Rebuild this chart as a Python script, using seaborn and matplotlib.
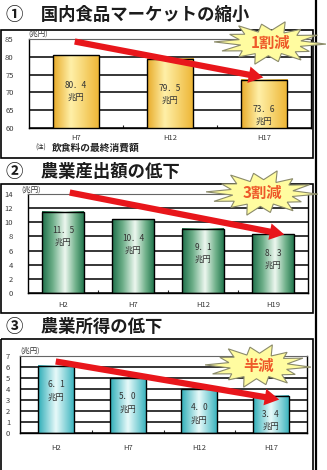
import numpy as np
import matplotlib
matplotlib.use("Agg")
import matplotlib.pyplot as plt
import seaborn as sns
from matplotlib.patches import Rectangle, Polygon, FancyArrowPatch

sns.set_theme(style="white")
plt.rcParams['font.family'] = ['Noto Sans CJK JP', 'DejaVu Sans']

# ---- data -------------------------------------------------------------
food_years = ["H7", "H12", "H17"]
food_values = [80.4, 79.5, 73.6]          # 国内食品マーケット (兆円)
food_ticks = [60, 65, 70, 75, 80, 85]

output_years = ["H2", "H7", "H12", "H19"]
output_values = [11.5, 10.4, 9.1, 8.3]    # 農業産出額 (兆円)
output_ticks = [0, 2, 4, 6, 8, 10, 12, 14]

income_years = ["H2", "H7", "H12", "H17"]
income_values = [6.1, 5.0, 4.0, 3.4]      # 農業所得 (兆円)
income_ticks = [0, 1, 2, 3, 4, 5, 6, 7]

titles = ["①　国内食品マーケットの縮小", "②　農業産出額の低下", "③　農業所得の低下"]
badges = ["1割減", "3割減", "半減"]
unit_label = "(兆円)"
note_label = "飲食料の最終消費額"

# ---- figure ------------------------------------------------------------
W, H, DPI = 327, 470, 100
fig = plt.figure(figsize=(W / DPI, H / DPI), dpi=DPI)
fig.patch.set_facecolor("white")


def px_axes(x0, y0, x1, y1):
    """Axes placed by pixel box (origin top-left)."""
    return fig.add_axes([x0 / W, 1 - y1 / H, (x1 - x0) / W, (y1 - y0) / H])


def gradient(stops, n=96):
    t = np.linspace(0, 1, n)
    ts = [s[0] for s in stops]
    cols = np.array([s[1] for s in stops])
    rgb = np.stack([np.interp(t, ts, cols[:, k]) for k in range(3)], axis=-1)
    return rgb[np.newaxis, :, :]


GOLD = gradient([(0, (0.91, 0.67, 0.16)), (0.38, (1.0, 0.94, 0.66)),
                 (1, (0.93, 0.71, 0.20))])
GREEN = gradient([(0, (0.12, 0.44, 0.29)), (0.25, (0.42, 0.68, 0.53)),
                  (0.55, (0.93, 0.97, 0.94)), (0.8, (0.45, 0.70, 0.55)),
                  (1, (0.14, 0.47, 0.31))])
CYAN = gradient([(0, (0.18, 0.68, 0.72)), (0.5, (0.91, 0.98, 0.98)),
                 (1, (0.24, 0.71, 0.75))])


def bar_panel(box, cats, vals, ticks, width, grad, ypad, xpad, label_drop):
    ax = px_axes(*box)
    sns.barplot(x=cats, y=vals, ax=ax, width=width, color="white",
                saturation=1, edgecolor="black", linewidth=1.0)
    lo, hi = ticks[0], ticks[-1]
    for p in ax.patches:
        x0, w = p.get_x(), p.get_width()
        top = p.get_y() + p.get_height()
        ax.imshow(grad, extent=[x0, x0 + w, lo, top], aspect="auto",
                  interpolation="bilinear", zorder=2)
        p.set_facecolor("none")
        p.set_zorder(3)
    n = len(cats)
    ax.set_xlim(-0.5, n - 0.5)
    ax.set_ylim(lo, hi)
    ax.set_yticks(ticks)
    ax.set_yticklabels([str(t) for t in ticks])
    ax.yaxis.grid(True, color="black", linewidth=1.1)
    ax.set_axisbelow(True)
    ax.set_xlabel("")
    ax.set_ylabel("")
    ax.tick_params(axis="y", length=0, pad=ypad, labelsize=5.5, labelcolor="#3a3a3a")
    ax.tick_params(axis="x", which="major", length=0, pad=xpad, labelsize=5.5,
                   labelcolor="#3a3a3a")
    ax.set_xticks(np.arange(n - 1) + 0.5, minor=True)
    ax.tick_params(axis="x", which="minor", length=2.5, width=0.8,
                   direction="in", color="#222", bottom=True)
    for s in ax.spines.values():
        s.set_color("black")
        s.set_linewidth(1.0)
    ax.spines["top"].set_color("#666")
    ax.spines["top"].set_linewidth(0.8)
    for i, v in enumerate(vals):
        txt = f"{v:.1f}".replace(".", "．") + "\n兆円"
        ax.annotate(txt, xy=(i, v), xytext=(0, -label_drop * 0.72),
                    textcoords="offset points", ha="center", va="center",
                    fontsize=6, color="#333333", linespacing=1.45, zorder=4)
    return ax


bar_panel((29, 39, 311, 128), food_years, food_values, food_ticks, 0.49,
          GOLD, 11, 4.5, 36)
bar_panel((28, 194, 308, 293), output_years, output_values, output_ticks, 0.6,
          GREEN, 11, 6, 25)
bar_panel((20, 356, 307, 433), income_years, income_values, income_ticks, 0.5,
          CYAN, 7, 8, 25)

# ---- overlay: frames, titles, arrows, badges --------------------------
ov = fig.add_axes([0, 0, 1, 1], zorder=10)
ov.set_xlim(0, W)
ov.set_ylim(H, 0)
ov.axis("off")
ov.patch.set_alpha(0)

# outer frame and panel boxes
ov.plot([315.5, 315.5], [0, H], color="black", lw=1.6, solid_capstyle="butt")
for (y0, y1) in [(30, 158), (184, 313), (339, H + 5)]:
    ov.add_patch(Rectangle((0.8, y0), 312.4, y1 - y0, fill=False,
                           edgecolor="black", lw=1.2))

# titles
for t, y in zip(titles, [14.5, 172, 327]):
    ov.text(6, y, t, fontsize=12.5, fontweight="bold", color="#1c1c1c",
            ha="left", va="center")

# units and footnote
for x, y in [(28, 34), (21, 189.5), (20, 350.5)]:
    ov.text(x, y, unit_label, fontsize=5.3, color="#333", ha="left", va="center")
ov.text(35, 148, "(注)", fontsize=4.5, color="#333", ha="left", va="center")
ov.text(52, 148, note_label, fontsize=7, fontweight="bold", color="#222",
        ha="left", va="center")

# downward trend arrows
for (x0, y0), (x1, y1) in [((72, 41), (266, 78)),
                           ((67, 192), (287, 235)),
                           ((53, 361), (282, 400))]:
    ov.add_patch(FancyArrowPatch(
        (x0, y0), (x1, y1),
        arrowstyle="simple,tail_width=0.45,head_width=1.2,head_length=1.05",
        mutation_scale=10, color="#E8161B", lw=0, zorder=5))

# explosion badges
spike_r = [1.0, 0.80, 0.95, 0.86, 1.0, 0.84, 0.93, 1.0, 0.82, 0.96, 0.87, 1.0, 0.83, 0.92]
notch_r = [0.56, 0.60, 0.52, 0.58, 0.55, 0.61, 0.53, 0.57, 0.60, 0.54, 0.58, 0.52, 0.59, 0.56]


def burst(cx, cy, rx, ry):
    pts = []
    k = len(spike_r)
    for i in range(k):
        a = 2 * np.pi * i / k + 0.05
        pts.append((cx + rx * spike_r[i] * np.cos(a), cy + ry * spike_r[i] * np.sin(a)))
        b = a + np.pi / k
        pts.append((cx + rx * notch_r[i] * np.cos(b), cy + ry * notch_r[i] * np.sin(b)))
    ov.add_patch(Polygon(pts, closed=True, facecolor="#FFFCA0",
                         edgecolor="#8A8A6A", lw=0.8, zorder=6))


for (cx, cy, rx, ry), label in zip([(270, 43, 56, 22), (262, 193, 56, 23),
                                    (258, 366, 53, 22)], badges):
    burst(cx, cy, rx, ry)
    ov.text(cx, cy, label, fontsize=11, fontweight="bold", color="#EE5A2A",
            ha="center", va="center", zorder=7)

fig.savefig("out.png", dpi=DPI, facecolor="white")
